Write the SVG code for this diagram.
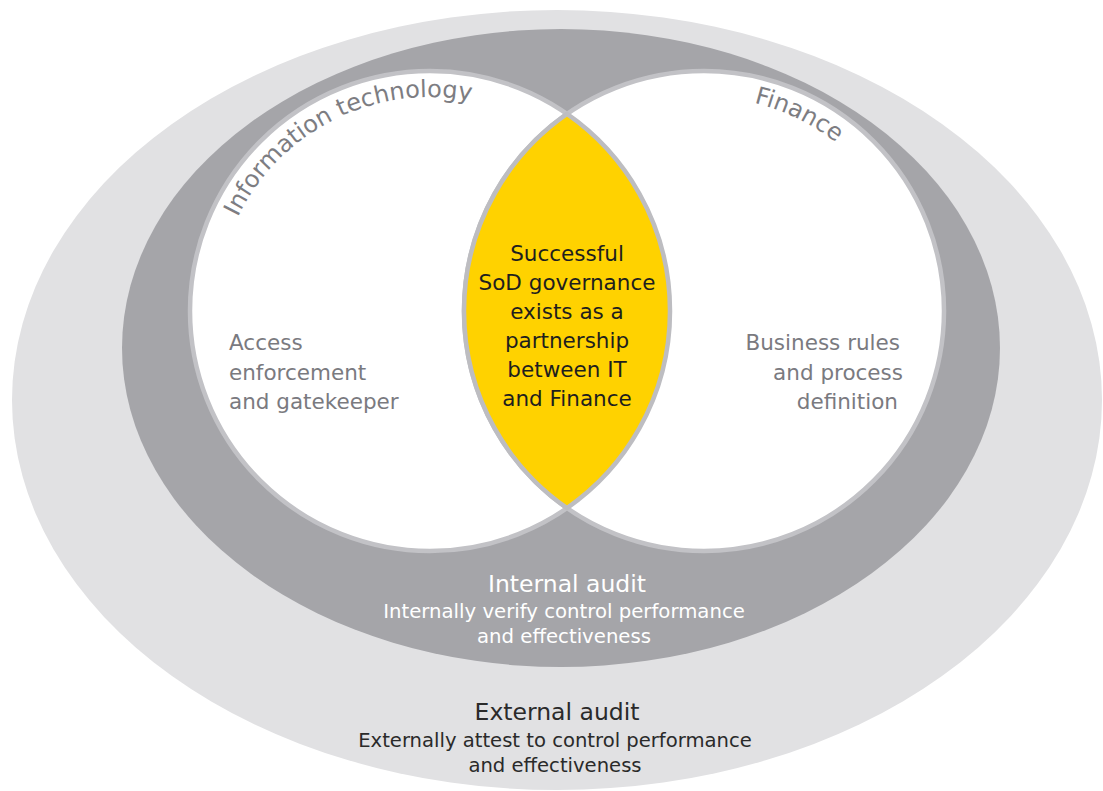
<svg xmlns="http://www.w3.org/2000/svg" width="1103" height="791" viewBox="0 0 1103 791">
<style>
.t{font-family:"DejaVu Sans","Liberation Sans",sans-serif;}
.grey{fill:#7a7a7f;font-size:21.5px;}
.arc{fill:#7d7d82;font-size:24px;}
.ctr{fill:#1e1e1e;font-size:21.5px;text-anchor:middle;}
.ia{fill:#ffffff;text-anchor:middle;}
.ea{fill:#2a2a2a;text-anchor:middle;}
.circ{fill:#ffffff;stroke:#c2c2c6;stroke-width:4.5;}
</style>
<defs>
<path id="itArc" d="M 237.7 217.2 A 214 214 0 0 1 537 125.7"/>
<path id="finArc" d="M 753.9 102.9 A 214 214 0 0 1 889.3 204"/>
</defs>
<rect width="1103" height="791" fill="#ffffff"/>
<g id="external-audit">
<ellipse cx="557" cy="400" rx="545" ry="390" fill="#e1e1e3"/>
<text class="t ea" x="557" y="720" font-size="23.5">External audit</text>
<text class="t ea" x="555" y="747" font-size="19.6">Externally attest to control performance</text>
<text class="t ea" x="555" y="772" font-size="19.6">and effectiveness</text>
</g>
<g id="internal-audit">
<ellipse cx="561" cy="348" rx="439" ry="319" fill="#a5a5a9"/>
<text class="t ia" x="567" y="592" font-size="23.5">Internal audit</text>
<text class="t ia" x="564" y="618" font-size="19.7">Internally verify control performance</text>
<text class="t ia" x="564" y="643" font-size="19.7">and effectiveness</text>
</g>
<g id="it">
<circle class="circ" cx="430" cy="311" r="240"/>
<text class="t arc"><textPath href="#itArc">Information technology</textPath></text>
<text class="t grey" x="229" y="350">Access</text>
<text class="t grey" x="229" y="379.5">enforcement</text>
<text class="t grey" x="229" y="409">and gatekeeper</text>
</g>
<g id="finance">
<circle class="circ" cx="704" cy="311" r="240"/>
<text class="t arc"><textPath href="#finArc">Finance</textPath></text>
<text class="t grey" x="900" y="350" text-anchor="end">Business rules</text>
<text class="t grey" x="903" y="379.5" text-anchor="end">and process</text>
<text class="t grey" x="898" y="409" text-anchor="end">definition</text>
</g>
<g id="sod">
<path d="M 567 113.94 A 240 240 0 0 1 567 508.06 A 240 240 0 0 1 567 113.94 Z" fill="#ffd200" stroke="#bdbdc1" stroke-width="4.5" stroke-linejoin="miter"/>
<text class="t ctr" x="567" y="261">Successful</text>
<text class="t ctr" x="567" y="290">SoD governance</text>
<text class="t ctr" x="567" y="319">exists as a</text>
<text class="t ctr" x="567" y="348">partnership</text>
<text class="t ctr" x="567" y="377">between IT</text>
<text class="t ctr" x="567" y="406">and Finance</text>
</g>
<g id="connectors"></g>
</svg>
